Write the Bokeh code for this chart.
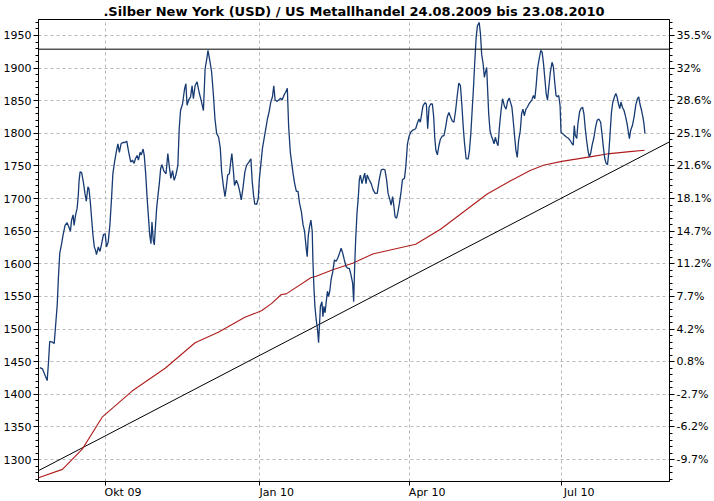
from datetime import datetime, timedelta
from bokeh.plotting import figure
from bokeh.models import Range1d, LinearAxis, Span, FixedTicker, SingleIntervalTicker
from bokeh.embed import file_html
from bokeh.resources import INLINE

title_text = ".Silber New York (USD) / US Metallhandel 24.08.2009 bis 23.08.2010"
start_date = datetime(2009, 8, 24)

# price series: days since 24.08.2009 and values
price_days = [
    -1.3, 0.3, 1.7, 3.1, 3.9, 4.6, 6.1, 7.3, 8.0, 9.1,
    9.8, 10.6, 11.6, 12.6, 13.8, 15.0, 16.0, 17.0, 17.7, 18.6,
    19.2, 20.1, 21.0, 21.7, 22.2, 22.8, 23.7, 24.7, 25.7, 26.5,
    27.5, 28.1, 28.9, 29.7, 30.5, 31.3, 32.0, 32.6, 33.7, 34.7,
    35.6, 36.8, 37.8, 38.6, 39.6, 40.6, 41.6, 42.4, 43.4, 44.4,
    45.4, 46.3, 47.3, 48.4, 49.6, 50.7, 51.9, 53.1, 54.1, 55.1,
    55.9, 56.9, 57.7, 58.7, 59.4, 60.5, 61.2, 62.1, 62.8, 63.6,
    64.4, 65.2, 65.8, 66.6, 67.2, 67.8, 68.6, 69.4, 70.2, 71.0,
    71.8,
    72.8, 74.2, 75.3, 76.1, 77.1, 78.1, 79.1, 80.1, 81.3, 82.1,
    82.9, 84.1, 85.3, 86.1, 86.8, 87.7, 88.9, 89.8, 90.6, 91.6,
    92.8, 94.0, 95.2, 96.6, 97.6, 98.6, 99.3, 100.4, 101.5, 102.6,
    103.5, 104.5, 105.7, 106.7, 107.5, 108.5, 109.5, 110.3, 111.1, 112.1,
    112.9, 113.6, 114.5, 115.2, 116.3, 117.5, 118.4, 119.2, 120.2, 121.4,
    122.4, 123.8, 125.0, 125.8, 126.6, 127.3, 128.4, 129.4, 130.1, 130.9,
    131.9, 132.9, 133.9, 134.9, 135.9, 136.9, 137.9, 138.7, 139.5, 140.7,
    141.6, 142.8, 143.7, 144.9, 145.8, 146.8, 147.6, 148.6,
    149.2, 150.2, 151.2, 152.2, 153.2, 154.1, 155.2, 156.2, 157.1, 158.1,
    158.7, 159.3, 160.1, 160.9, 161.7, 162.1, 162.7, 163.3, 164.1, 164.9,
    165.5, 166.1, 166.6, 167.5, 168.1, 168.7, 169.4, 170.0, 170.8, 171.4,
    172.2, 173.0, 174.0, 175.0, 176.0, 177.0, 178.0, 179.0, 180.0, 180.9,
    181.9, 183.0, 183.9, 184.9, 185.9, 186.5, 187.1, 187.7, 188.5, 189.3,
    189.9, 190.5, 191.5, 192.3, 193.1, 193.9, 194.6, 195.8, 197.0, 198.2,
    199.4, 200.6, 201.8, 203.0, 204.2, 205.2, 206.2, 207.1, 208.2, 208.9,
    209.8, 210.5, 211.3, 212.2, 212.9, 213.9, 214.9, 215.7, 216.9, 217.7,
    218.7, 219.7, 220.7, 222.0, 223.6, 224.8, 225.6, 226.4, 227.2, 228.0,
    229.2, 230.0, 230.8, 231.6, 232.6, 233.6, 234.4, 235.0, 235.7, 236.6,
    237.5, 238.4, 239.6, 240.5, 241.5, 242.5, 243.5, 244.5, 245.5, 246.5,
    247.5, 248.5, 249.4, 250.4, 251.2, 252.1, 252.8, 253.8, 255.0, 255.8,
    256.6, 257.4, 258.2, 259.0, 259.8, 260.6, 261.6, 262.4, 263.1, 264.0,
    264.7, 265.3, 266.1, 266.7, 267.3, 268.1, 268.9, 269.7, 270.5, 271.3,
    272.1, 272.9, 273.7, 274.7, 275.6, 276.7, 277.7, 278.6, 279.6, 280.4,
    281.2, 282.0, 282.8, 283.6, 284.4, 285.2, 286.2, 287.0, 287.8, 288.6,
    289.6, 290.4, 291.4,
    293.1, 294.1, 294.9, 295.7, 296.5, 297.5, 298.5, 299.3, 300.1, 300.9,
    301.7, 302.5, 303.3, 304.2, 305.2, 306.0, 306.9, 307.6, 308.4, 309.2,
    310.0, 310.6, 311.4, 312.6, 314.0, 315.2, 316.1, 317.2, 317.9, 318.5,
    319.1, 320.0, 320.7, 321.7, 322.5, 323.5, 324.3, 325.1, 325.9, 326.7,
    327.5, 328.3, 329.2, 330.3, 331.3, 332.2, 333.2, 334.3, 335.2, 336.0,
    336.8, 337.6, 338.4, 339.2, 340.0, 340.8, 341.6, 342.6, 343.4, 344.1,
    345.0, 345.7, 346.5, 347.3, 348.3, 349.3, 350.1, 350.9, 351.5, 352.3,
    353.3, 354.3, 355.3, 356.3, 357.1, 357.8, 358.8, 359.6, 360.2, 360.8,
]
price_vals = [
    1441, 1439, 1430, 1421, 1450, 1481, 1480, 1478, 1501, 1537,
    1578, 1616, 1629, 1644, 1659, 1663, 1657, 1650, 1667, 1675,
    1659, 1675, 1685, 1705, 1728, 1741, 1740, 1726, 1708, 1696,
    1718, 1715, 1695, 1669, 1644, 1626, 1621, 1614, 1626, 1619,
    1630, 1645, 1646, 1626, 1633, 1659, 1700, 1738, 1756, 1771,
    1784, 1771, 1784, 1786, 1786, 1788, 1771, 1756, 1759, 1754,
    1761, 1766, 1759, 1771, 1767, 1776, 1766, 1736, 1705, 1675,
    1646, 1631, 1664, 1636, 1629, 1654, 1685, 1705, 1723, 1746,
    1752,
    1743, 1738, 1769, 1751, 1731, 1743, 1728, 1736, 1751, 1807,
    1835, 1845, 1868, 1876, 1843, 1851, 1856, 1873, 1853, 1873,
    1879, 1863, 1851, 1835, 1899, 1914, 1927, 1912, 1894, 1858,
    1822, 1800, 1794, 1777, 1741, 1720, 1703, 1718, 1736, 1738,
    1756, 1769, 1743, 1720, 1728, 1720, 1710, 1698, 1715, 1741,
    1751, 1756, 1761, 1726, 1705, 1692, 1691, 1700, 1731, 1751,
    1777, 1792, 1807, 1822, 1833, 1848, 1856, 1873, 1851, 1849,
    1851, 1854, 1851, 1859, 1863, 1869, 1810, 1771,
    1759, 1739, 1723, 1711, 1711, 1693, 1680, 1660, 1650, 1624,
    1611, 1642, 1657, 1667, 1650, 1606, 1565, 1535, 1514, 1499,
    1479, 1509, 1535, 1542, 1519, 1535, 1525, 1540, 1558, 1550,
    1558, 1576, 1588, 1606, 1604, 1609, 1616, 1624, 1616, 1606,
    1596, 1593, 1593, 1583, 1570, 1542, 1596, 1637, 1678, 1703,
    1729, 1736, 1723, 1731, 1739, 1723, 1736, 1729, 1723, 1713,
    1708, 1708, 1729, 1744, 1745, 1744, 1729, 1708, 1698, 1690,
    1703, 1690, 1672, 1670, 1678, 1693, 1711, 1729, 1731, 1749,
    1784, 1796, 1802, 1805, 1807, 1817, 1822, 1817, 1830, 1842,
    1847, 1845, 1807, 1840, 1845, 1845, 1825, 1794, 1774, 1767,
    1781, 1791, 1796, 1796, 1809, 1825, 1832, 1825, 1819, 1817,
    1835, 1858, 1877, 1873, 1845, 1809, 1786, 1761, 1761, 1774,
    1799, 1835, 1870, 1911, 1947, 1965, 1970, 1952, 1921, 1906,
    1886, 1893, 1901, 1865, 1830, 1804, 1796, 1791, 1784, 1794,
    1786, 1781, 1809, 1835, 1853, 1842, 1837, 1849, 1854, 1847,
    1840, 1819, 1796, 1774, 1763, 1789, 1804, 1830, 1837, 1827,
    1837, 1840, 1845,
    1851, 1858, 1853, 1873, 1899, 1914, 1927, 1924, 1907, 1884,
    1861, 1851, 1871, 1894, 1909, 1902, 1876, 1858, 1856, 1858,
    1843, 1801, 1800, 1797, 1794, 1792, 1789, 1784, 1782, 1812,
    1797, 1792, 1815, 1833, 1838, 1840, 1830, 1807, 1789, 1774,
    1764, 1769, 1782, 1794, 1810, 1820, 1822, 1817, 1797, 1777,
    1761, 1754, 1752, 1771, 1802, 1833, 1848, 1856, 1861, 1856,
    1845, 1838, 1848, 1840, 1835, 1825, 1815, 1802, 1792, 1805,
    1812, 1825, 1843, 1853, 1856, 1845, 1835, 1825, 1815, 1800,
]

# moving average (red)
avg_days = [-2.1, 12.2, 24.1, 36.0, 53.9, 73.7, 91.6, 105.5, 121.4, 131.3,
            137.3, 143.2, 146.2, 161.1, 164.1, 174.0, 185.9, 197.9, 211.7, 223.6,
            238.5, 266.4, 280.2, 292.1, 300.1, 311.0, 327.9, 339.8, 351.7, 360.6]
avg_vals = [1272, 1285, 1316, 1365, 1405, 1440, 1479, 1495, 1518, 1528,
            1539, 1553, 1554, 1579, 1581, 1591, 1601, 1615, 1623, 1630,
            1653, 1707, 1727, 1743, 1751, 1757, 1764, 1769, 1772, 1774]

# trend line and horizontal resistance
trend_days = [-2.1, 375.5]
trend_vals = [1283, 1787]
resistance_level = 1929

y_ticks = [1300, 1350, 1400, 1450, 1500, 1550, 1600, 1650, 1700, 1750, 1800, 1850, 1900, 1950]
pct_labels = ["-9.7%", "-6.2%", "-2.7%", "0.8%", "4.2%", "7.7%", "11.2%", "14.7%",
              "18.1%", "21.6%", "25.1%", "28.6%", "32%", "35.5%"]
x_tick_dates = [datetime(2009, 10, 1), datetime(2010, 1, 1), datetime(2010, 4, 1), datetime(2010, 7, 1)]
x_tick_labels = ["Okt 09", "Jan 10", "Apr 10", "Jul 10"]

x_start_day, x_end_day = -2.1, 375.5
y_low, y_high = 1266.4, 1974.5


def to_dates(days):
    return [start_date + timedelta(days=d) for d in days]


def to_ms(dt):
    return (dt - datetime(1970, 1, 1)).total_seconds() * 1000.0


FONT = "DejaVu Sans"

p = figure(width=714, height=501, x_axis_type="datetime", output_backend="svg",
           toolbar_location=None,
           x_range=Range1d(start_date + timedelta(days=x_start_day), start_date + timedelta(days=x_end_day)),
           y_range=Range1d(y_low, y_high), title=title_text,
           min_border_left=0, min_border_right=0, min_border_top=0, min_border_bottom=0)
p.background_fill_color = "white"
p.border_fill_color = "white"
p.outline_line_color = "black"
p.outline_line_alpha = 1.0

p.title.align = "center"
p.title.text_font = FONT
p.title.text_font_size = "13px"
p.title.text_font_style = "bold"
p.title.text_color = "black"
p.title.standoff = 2

# x axis
x_ticks_ms = [to_ms(d) for d in x_tick_dates]
xticker = FixedTicker(ticks=x_ticks_ms)
xax = p.xaxis[0]
xax.ticker = xticker
xax.major_label_overrides = {t: "\u00a0" * 10 + lab for t, lab in zip(x_ticks_ms, x_tick_labels)}
p.xgrid[0].ticker = xticker

# y axes
yticker_l = SingleIntervalTicker(interval=50, num_minor_ticks=5)
yax = p.yaxis[0]
yax.ticker = yticker_l
p.ygrid[0].ticker = yticker_l

rax = LinearAxis(ticker=SingleIntervalTicker(interval=50, num_minor_ticks=5),
                 major_label_overrides={v: lab for v, lab in zip(y_ticks, pct_labels)})
p.add_layout(rax, "right")

for ax in (xax, yax, rax):
    ax.axis_line_color = "black"
    ax.major_tick_line_color = "black"
    ax.minor_tick_line_color = "black"
    ax.major_tick_in = 0
    ax.major_tick_out = 5
    ax.minor_tick_in = 0
    ax.minor_tick_out = 3
    ax.major_label_text_font = FONT
    ax.major_label_text_font_size = "11px"
    ax.major_label_text_color = "black"
    ax.major_label_standoff = 2
xax.minor_tick_line_color = None
xax.major_tick_out = 4
xax.major_label_standoff = 0

for g in (p.xgrid[0], p.ygrid[0]):
    g.grid_line_color = "#b8b8b8"
    g.grid_line_dash = "3 3"
    g.grid_line_width = 1

p.add_layout(Span(location=resistance_level, dimension="width", line_color="black", line_width=1))

p.line(to_dates(trend_days), trend_vals, line_color="black", line_width=1)
p.line(to_dates(avg_days), avg_vals, line_color="#b01c1c", line_width=1.1)
p.line(to_dates(price_days), price_vals, line_color="#163a72", line_width=1.3)

open("out.html", "w").write(file_html(p, INLINE))
